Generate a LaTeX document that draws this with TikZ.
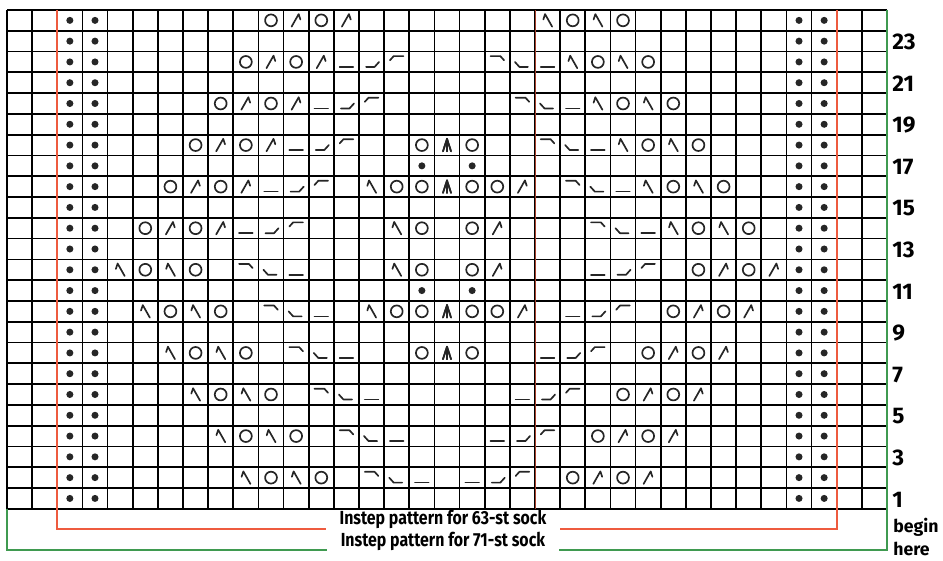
\documentclass[tikz,border=0pt]{standalone}
\usepackage{fontspec}
\setmainfont{Fira Sans}
\newfontfamily\labfont{Fira Sans}[FakeStretch=0.84]
\usepackage{xcolor}
\usetikzlibrary{calc}

\definecolor{chartred}{HTML}{EE5B3F}
\definecolor{chartgreen}{HTML}{3F9A50}
\definecolor{glyphgray}{HTML}{262626}

% chart symbols, each drawn in a cell centred at the origin
\newcommand{\symyo}{\draw[gl] (0,0) circle[radius=0.118cm];}
\newcommand{\symp}{\fill[glyphgray] (0,0) circle[radius=0.07cm];}
\newcommand{\symktog}{\draw[gl] (-0.18,-0.3) -- (0.1,0.3) -- (0.17,0.04);}
\newcommand{\symssk}{\draw[gl] (0.18,-0.3) -- (-0.1,0.3) -- (-0.17,0.04);}
\newcommand{\symcdd}{\draw[gl] (-0.16,-0.3) -- (0,0.3) -- (0.16,-0.3);
  \draw[gl] (0,0.3) -- (0,-0.3);}
\newcommand{\symcbot}{\draw[gl] (-0.27,-0.24) -- (0.27,-0.24);}
\newcommand{\symcup}{\draw[gl] (-0.22,-0.24) -- (0.12,-0.24) -- (0.3,0);}
\newcommand{\symctop}{\draw[gl] (-0.27,0.08) -- (-0.12,0.28) -- (0.27,0.28);}
\newcommand{\symcdown}{\draw[gl] (-0.27,0.28) -- (0.12,0.28) -- (0.27,0.08);}
\newcommand{\symcdb}{\draw[gl] (-0.3,0) -- (-0.12,-0.24) -- (0.22,-0.24);}

\begin{document}
\begin{tikzpicture}[x=0.5cm,y=0.41333cm,
  gl/.style={line width=0.95pt,draw=glyphgray,line cap=round,line join=round},
  gridline/.style={line width=0.95pt},
  redline/.style={chartred,line width=0.95pt},
  greenline/.style={chartgreen,line width=0.95pt},
  lab/.style={font=\labfont\bfseries\fontsize{10.7}{12}\selectfont,fill=white,inner xsep=0.27cm,inner ysep=0pt,anchor=base},
  rownum/.style={font=\bfseries\fontsize{12.8}{14}\selectfont,anchor=west,inner sep=0pt},
  note/.style={font=\bfseries\fontsize{10}{12}\selectfont,anchor=base west,inner sep=0pt}]
  \useasboundingbox (-0.2784,-2.501) rectangle (37.227,24.48);

  % grid
  \foreach \i in {0,...,35} \draw[gridline] (\i,0) -- (\i,24);
  \foreach \j in {0,...,24} \draw[gridline] (0,\j) -- (35,\j);
  \draw[chartred!70!black,line width=0.55pt] (21,0) -- (21,24);

  % purl columns
  \foreach \r in {1,...,24} {
    \fill[glyphgray] (2.5,\r-0.5) circle[radius=0.07cm];
    \fill[glyphgray] (3.5,\r-0.5) circle[radius=0.07cm];
    \fill[glyphgray] (31.5,\r-0.5) circle[radius=0.07cm];
    \fill[glyphgray] (32.5,\r-0.5) circle[radius=0.07cm];
  }

  % left half of each row, mirrored onto the right half
  \foreach \r/\cells in {
    24/{11/yo,12/ktog,13/yo,14/ktog},
    22/{10/yo,11/ktog,12/yo,13/ktog,14/cbot,15/cup,16/ctop},
    20/{9/yo,10/ktog,11/yo,12/ktog,13/cbot,14/cup,15/ctop},
    18/{8/yo,9/ktog,10/yo,11/ktog,12/cbot,13/cup,14/ctop,17/yo,18/cdd},
    17/{17/p},
    16/{7/yo,8/ktog,9/yo,10/ktog,11/cbot,12/cup,13/ctop,15/ssk,16/yo,17/yo,18/cdd},
    14/{6/yo,7/ktog,8/yo,9/ktog,10/cbot,11/cup,12/ctop,16/ssk,17/yo},
    12/{5/ssk,6/yo,7/ssk,8/yo,10/cdown,11/cdb,12/cbot,16/ssk,17/yo},
    11/{17/p},
    10/{6/ssk,7/yo,8/ssk,9/yo,11/cdown,12/cdb,13/cbot,15/ssk,16/yo,17/yo,18/cdd},
    8/{7/ssk,8/yo,9/ssk,10/yo,12/cdown,13/cdb,14/cbot,17/yo,18/cdd},
    6/{8/ssk,9/yo,10/ssk,11/yo,13/cdown,14/cdb,15/cbot},
    4/{9/ssk,10/yo,11/ssk,12/yo,14/cdown,15/cdb,16/cbot},
    2/{10/ssk,11/yo,12/ssk,13/yo,15/cdown,16/cdb,17/cbot}} {
    \foreach \c/\s in \cells {
      \begin{scope}[shift={(\c-0.5,\r-0.5)}]\csname sym\s\endcsname\end{scope}
      \begin{scope}[shift={(35.5-\c,\r-0.5)},xscale=-1]\csname sym\s\endcsname\end{scope}
    }
  }

  % row numbers
  \foreach \r in {1,3,...,23} \node[rownum] (row\r) at (35.2,\r-0.55) {\r};
  \node[note] (begin) at (35.24,-1.12) {begin};
  \node[note] (here) at (35.24,-2.24) {here};

  % sock size outlines
  \node[lab] (lab63) at (17.34,-0.77) {Instep pattern for 63-st sock};
  \node[lab] (lab71) at (17.34,-1.813) {Instep pattern for 71-st sock};
  \coordinate (rbl) at (2,-0.976);
  \coordinate (rbr) at (33,-0.976);
  \coordinate (gbl) at (0,-1.987);
  \coordinate (gbr) at (35,-1.987);
  \draw[redline] (2,24) -- (rbl) -- (lab63.west |- rbl);
  \draw[redline] (33,24) -- (rbr) -- (lab63.east |- rbr);
  \draw[greenline] (0,0) -- (gbl) -- (lab71.west |- gbl);
  \draw[greenline] (35,24) -- (gbr) -- (lab71.east |- gbr);
\end{tikzpicture}
\end{document}
